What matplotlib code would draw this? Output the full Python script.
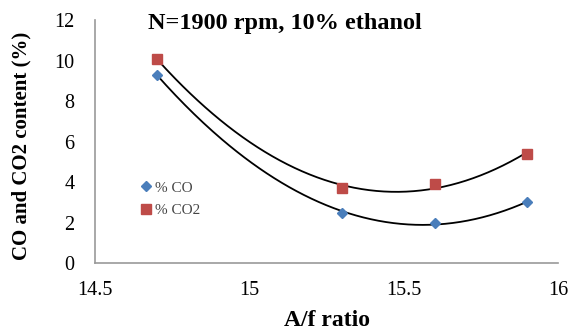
import numpy as np
import matplotlib
matplotlib.use("Agg")
import matplotlib.pyplot as plt

plt.rcParams['font.family'] = ['Liberation Serif', 'DejaVu Serif']

af_ratio = [14.7, 15.3, 15.6, 15.9]
co = [9.3, 2.5, 2.0, 3.0]
co2 = [10.1, 3.7, 3.9, 5.4]

fig = plt.figure(figsize=(5.7, 3.29), dpi=100)
ax = fig.add_axes([0.167, 0.2, 0.812, 0.739])

# polynomial (order 2) trendlines
xs = np.linspace(14.7, 15.9, 200)
for ys in (co, co2):
    p = np.polyfit(af_ratio, ys, 2)
    ax.plot(xs, np.polyval(p, xs), color='black', lw=1.3, zorder=2)

ax.plot(af_ratio, co, 'D', color='#4a7ebb', ms=5.5, lw=0, label='% CO', zorder=3)
ax.plot(af_ratio, co2, 's', color='#be4b48', ms=7.5, lw=0, label='% CO2', zorder=3)

ax.set_xlim(14.5, 16)
ax.set_ylim(0, 12)
ax.set_xticks([14.5, 15, 15.5, 16])
ax.set_xticklabels(['14.5', '15', '15.5', '16'])
ax.set_yticks(range(0, 13, 2))
ax.tick_params(length=0, labelsize=14.5)
ax.tick_params(axis='y', pad=15)
ax.tick_params(axis='x', pad=13)

for s in ('top', 'right'):
    ax.spines[s].set_visible(False)
for s in ('left', 'bottom'):
    ax.spines[s].set_color('#999999')
    ax.spines[s].set_linewidth(1.2)

fig.text(0.5 * (95 + 558) / 570, 1 - 320 / 329, 'A/f ratio', fontsize=17,
         fontweight='bold', ha='center', va='center')
fig.text(21 / 570, 1 - 146 / 329, 'CO and CO2 content (%)', fontsize=15,
         fontweight='bold', rotation=90, ha='center', va='center')
fig.text(148 / 570, 1 - 23 / 329, 'N=1900 rpm, 10% ethanol',
         fontsize=17.5, fontweight='bold', va='center', ha='left')

ax.legend(loc='upper left', bbox_to_anchor=(0.06, 0.395), frameon=False,
          fontsize=11, handletextpad=0.0, handlelength=1.2, labelspacing=0.6,
          labelcolor='#444444')

fig.savefig('out.png', dpi=100)
